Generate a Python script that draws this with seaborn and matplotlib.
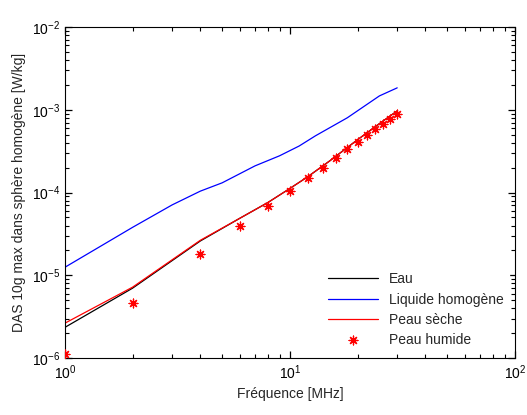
import numpy as np
import pandas as pd
import matplotlib
matplotlib.use("Agg")
import matplotlib.pyplot as plt
from matplotlib.ticker import LogLocator, NullFormatter
import seaborn as sns

# frequencies (MHz)
freq = [1, 2, 4, 6, 8, 10, 12, 15, 20, 25, 30]
eau = [2.35e-6, 7.0e-6, 2.6e-5, 4.9e-5, 7.6e-5, 1.12e-4, 1.55e-4, 2.4e-4, 4.35e-4, 6.8e-4, 9.7e-4]
peau_seche = [2.64e-6, 7.2e-6, 2.65e-5, 4.9e-5, 7.6e-5, 1.12e-4, 1.55e-4, 2.4e-4, 4.35e-4, 6.8e-4, 9.7e-4]

freq_l = [1, 2, 3, 4, 5, 7, 9, 11, 13, 18, 25, 30]
liquide = [1.25e-5, 3.8e-5, 7.1e-5, 1.04e-4, 1.31e-4, 2.1e-4, 2.78e-4, 3.65e-4, 4.85e-4, 8.0e-4, 1.47e-3, 1.84e-3]

# measured points
freq_h = [1, 2, 4, 6, 8, 10, 12, 14, 16, 18, 20, 22, 24, 26, 28, 30]
peau_humide = [1.12e-6, 4.6e-6, 1.8e-5, 4.0e-5, 6.8e-5, 1.03e-4, 1.48e-4, 2.0e-4,
               2.64e-4, 3.39e-4, 4.1e-4, 5.0e-4, 5.9e-4, 6.8e-4, 7.8e-4, 8.95e-4]

sns.set_style("ticks")
plt.rcParams['font.family'] = ['Liberation Sans', 'DejaVu Sans']
plt.rcParams.update({
    'xtick.direction': 'in', 'ytick.direction': 'in',
    'xtick.top': True, 'ytick.right': True,
    'xtick.major.size': 5, 'ytick.major.size': 5,
    'xtick.minor.size': 3, 'ytick.minor.size': 3,
    'xtick.major.width': 0.9, 'ytick.major.width': 0.9,
    'xtick.minor.width': 0.8, 'ytick.minor.width': 0.8,
    'xtick.color': 'black', 'ytick.color': 'black',
    'axes.axisbelow': False,
})

fig = plt.figure(figsize=(5.27, 4.15), dpi=100)
ax = fig.add_axes([0.123, 0.137, 0.854, 0.798])

sns.lineplot(x=freq, y=eau, color='black', lw=0.9, label='Eau', ax=ax)
sns.lineplot(x=freq_l, y=liquide, color='blue', lw=0.9, label='Liquide homogène', ax=ax)
sns.lineplot(x=freq, y=peau_seche, color='red', lw=0.9, label='Peau sèche', ax=ax)
sns.scatterplot(x=freq_h, y=peau_humide, marker=(8, 2, 0), s=40, color='red',
                linewidth=0.9, edgecolor='red', label='Peau humide', ax=ax, zorder=5)

ax.set_xscale('log')
ax.set_yscale('log')
ax.set_xlim(1, 100)
ax.set_ylim(1e-6, 1e-2)
for a in (ax.xaxis, ax.yaxis):
    a.set_major_locator(LogLocator(base=10, numticks=20))
    a.set_minor_locator(LogLocator(base=10, subs=np.arange(2, 10), numticks=100))
    a.set_minor_formatter(NullFormatter())
ax.tick_params(which='both', direction='in', top=True, right=True, labelsize=10)
for s in ax.spines.values():
    s.set_linewidth(0.8)
    s.set_color('black')

ax.set_xlabel('Fréquence [MHz]', fontsize=10)
ax.set_ylabel('DAS 10g max dans sphère homogène [W/kg]', fontsize=10)

leg = ax.legend(loc='lower right', frameon=True, fontsize=10, handlelength=3.6,
                borderaxespad=0.4, labelspacing=0.45, fancybox=False)
leg.get_frame().set_edgecolor('white')
leg.get_frame().set_alpha(1)

fig.savefig('out.png', dpi=100)
